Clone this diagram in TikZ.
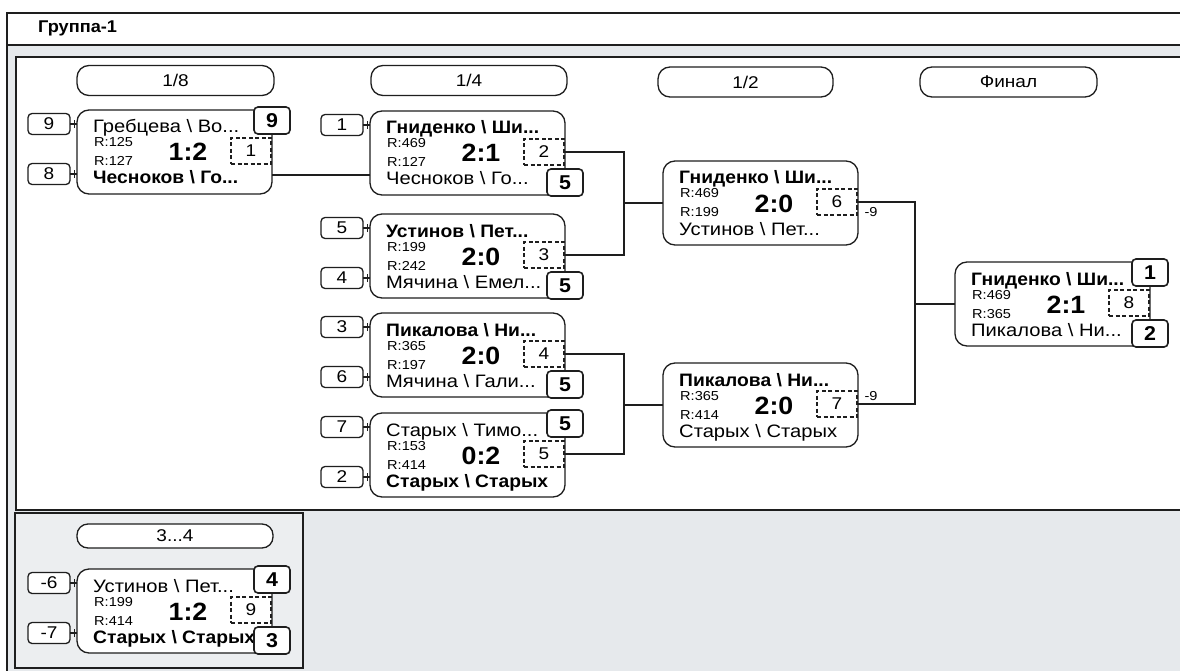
\documentclass[tikz,border=0pt]{standalone}
\usepackage{fontspec}
\setmainfont{Liberation Sans}[FakeStretch=1.12, BoldFeatures={FakeStretch=1.07}]
\definecolor{bggrey}{HTML}{E6E9EC}
\definecolor{panelgrey}{HTML}{ECEEF0}
\definecolor{ink}{HTML}{1E1E1E}
\newcommand\bs{\textbackslash{}}
\tikzset{
 ln/.style={line width=1.3pt, draw=ink},
 mbox/.style={ln, fill=white, rounded corners=12pt, minimum width=195pt, minimum height=84pt, inner sep=0pt, outer sep=0pt},
 dbox/.style={draw=ink, line width=1.2pt, dash pattern=on 4pt off 2.5pt, minimum width=40pt, minimum height=26pt, inner sep=0pt, outer sep=0pt, font=\fontsize{17}{17}\selectfont},
 wbox/.style={ln, line width=1.6pt, fill=white, rounded corners=4pt, minimum width=36pt, minimum height=27pt, inner sep=0pt, outer sep=0pt, font=\bfseries\fontsize{20}{20}\selectfont},
 sbox/.style={ln, fill=white, rounded corners=4pt, minimum width=42pt, minimum height=21pt, inner sep=0pt, outer sep=0pt, font=\fontsize{17}{17}\selectfont},
 pill/.style={ln, fill=white, rounded corners=12pt, inner sep=0pt, font=\fontsize{17}{17}\selectfont},
 nametxt/.style={anchor=base west, inner sep=0pt, font=\fontsize{18}{18}\selectfont},
 rtxt/.style={anchor=base west, inner sep=0pt, font=\fontsize{13}{13}\selectfont},
 scoretxt/.style={anchor=base, inner sep=0pt, font=\bfseries\fontsize{25}{25}\selectfont},
 conn/.style={line width=1.3pt, draw=ink},
 smalltxt/.style={inner sep=0pt, font=\fontsize{13}{13}\selectfont},
 frame/.style={line width=1.5pt, draw=ink}
}
% id, x, y, name1, r1, score, r2, name2, dashed number
\newcommand\matchbox[9]{%
 \begin{scope}[shift={(#2,#3)}]
  \node[mbox, anchor=north west] (#1) at (0,0) {};
  \node[dbox, anchor=north east] (#1-d) at (194,28) {#9};
  \node[nametxt] (#1-na) at (16,23) {#4};
  \node[rtxt] (#1-ra) at (17,37) {R:#5};
  \node[rtxt] (#1-rb) at (17,56) {R:#7};
  \node[scoretxt] (#1-sc) at (111,51) {#6};
  \node[nametxt] (#1-nb) at (16,74) {#8};
  \coordinate (#1-ina) at (0,14);
  \coordinate (#1-inb) at (0,64);
 \end{scope}}
\newcommand\wtop[2]{\node[wbox, anchor=north west] (#1-wa) at ([xshift=-18pt,yshift=3pt]#1.north east) {#2};}
\newcommand\wbot[2]{\node[wbox, anchor=south west] (#1-wb) at ([xshift=-18pt,yshift=-1pt]#1.south east) {#2};}
\newcommand\seed[3]{%
 \node[sbox, anchor=east] (#1-s#2) at ([xshift=-7pt]#1-in#2) {#3};
 \draw[conn] (#1-s#2.east) -- (#1-in#2);
 \draw[conn, line width=1pt] ([xshift=4pt,yshift=-4pt]#1-s#2.east) -- ([xshift=4pt,yshift=4pt]#1-s#2.east);}
\begin{document}
\begin{tikzpicture}[x=1pt, y=-1pt]
\useasboundingbox (0,0) rectangle (1180,671);
\fill[white] (0,0) rectangle (1180,671);
% window frame
\fill[bggrey] (7,13) rectangle (1190,680);
\draw[frame, fill=white] (7,13) rectangle (1190,45);
\draw[frame] (7,13) -- (7,680);
\node[anchor=base west, inner sep=0pt, font=\bfseries\fontsize{17}{17}\selectfont] (title) at (38,33) {Группа-1};
% main bracket panel
\draw[frame, fill=white] (16,57) rectangle (1190,510);
% 3-4 panel
\draw[frame, fill=panelgrey] (15,513) rectangle (303,668);
% round headers
\node[pill, minimum width=197pt, minimum height=30pt] (h1) at (175.5,80.5) {1/8};
\node[pill, minimum width=196pt, minimum height=30pt] (h2) at (469,80.5) {1/4};
\node[pill, minimum width=175pt, minimum height=30pt] (h3) at (745.5,82) {1/2};
\node[pill, minimum width=177pt, minimum height=30pt] (h4) at (1008.5,82) {Финал};
\node[pill, minimum width=196pt, minimum height=24pt, rounded corners=11pt] (h5) at (175,536) {3...4};
% matches
\matchbox{m1}{77}{110}{Гребцева \bs{} Во...}{125}{1:2}{127}{\textbf{Чесноков \bs{} Го...}}{1}
\matchbox{m2}{370}{111}{\textbf{Гниденко \bs{} Ши...}}{469}{2:1}{127}{Чесноков \bs{} Го...}{2}
\matchbox{m3}{370}{214}{\textbf{Устинов \bs{} Пет...}}{199}{2:0}{242}{Мячина \bs{} Емел...}{3}
\matchbox{m4}{370}{313}{\textbf{Пикалова \bs{} Ни...}}{365}{2:0}{197}{Мячина \bs{} Гали...}{4}
\matchbox{m5}{370}{413}{Старых \bs{} Тимо...}{153}{0:2}{414}{\textbf{Старых \bs{} Старых}}{5}
\matchbox{m6}{663}{161}{\textbf{Гниденко \bs{} Ши...}}{469}{2:0}{199}{Устинов \bs{} Пет...}{6}
\matchbox{m7}{663}{363}{\textbf{Пикалова \bs{} Ни...}}{365}{2:0}{414}{Старых \bs{} Старых}{7}
\matchbox{m8}{955}{262}{\textbf{Гниденко \bs{} Ши...}}{469}{2:1}{365}{Пикалова \bs{} Ни...}{8}
\matchbox{m9}{77}{569}{Устинов \bs{} Пет...}{199}{1:2}{414}{\textbf{Старых \bs{} Старых}}{9}
% seeds
\seed{m1}{a}{9}
\seed{m1}{b}{8}
\seed{m2}{a}{1}
\seed{m3}{a}{5}
\seed{m3}{b}{4}
\seed{m4}{a}{3}
\seed{m4}{b}{6}
\seed{m5}{a}{7}
\seed{m5}{b}{2}
\seed{m9}{a}{-6}
\seed{m9}{b}{-7}
% connectors
\coordinate (j1) at (624,0);
\coordinate (j2) at (915,0);
\draw[conn] (m2-inb) -- (m2-inb -| m1.east);
\draw[conn] (m2-d.east) -| (j1 |- m6.west) -- (m6.west);
\draw[conn] (m3-d.east) -| (j1 |- m6.west);
\draw[conn] (m4-d.east) -| (j1 |- m7.west) -- (m7.west);
\draw[conn] (m5-d.east) -| (j1 |- m7.west);
\draw[conn] (m6-d.east) -| (j2 |- m8.west) -- (m8.west);
\draw[conn] (m7-d.east) -| (j2 |- m8.west);
\node[smalltxt] (l6) at ([xshift=14pt,yshift=-10pt]m6-d.east) {-9};
\node[smalltxt] (l7) at ([xshift=14pt,yshift=8pt]m7-d.east) {-9};
% winner boxes
\wtop{m1}{9}
\wbot{m2}{5}
\wbot{m3}{5}
\wbot{m4}{5}
\wtop{m5}{5}
\wtop{m8}{1}
\wbot{m8}{2}
\wtop{m9}{4}
\wbot{m9}{3}
\end{tikzpicture}
\end{document}
